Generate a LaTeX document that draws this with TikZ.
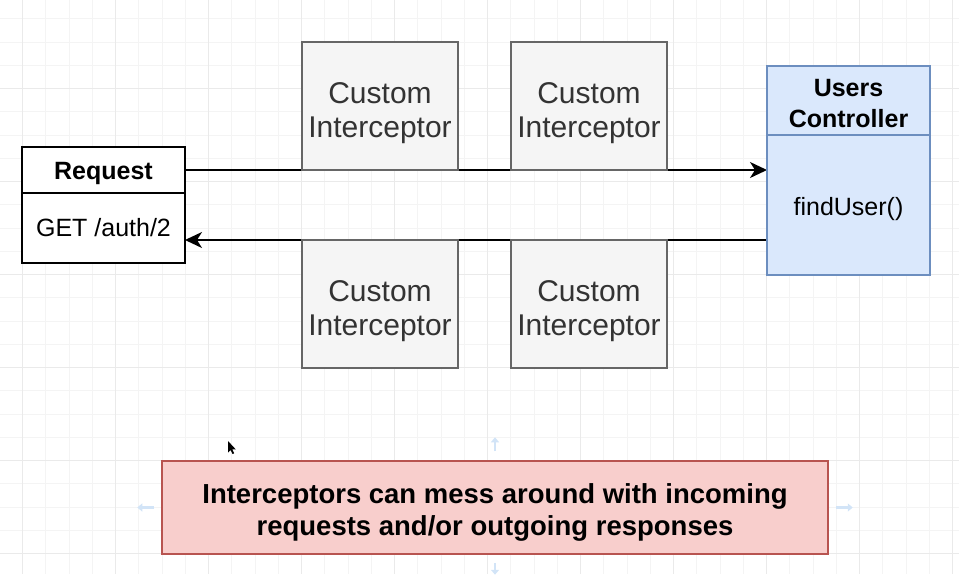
\documentclass[tikz,border=0pt]{standalone}
\usepackage{fontspec}
\setmainfont{Liberation Sans}
\usepackage{tikz}
\usetikzlibrary{arrows.meta,positioning}
\definecolor{gridminor}{HTML}{F4F4F4}
\definecolor{gridmajor}{HTML}{EAEAEA}
\definecolor{icptfill}{HTML}{F5F5F5}
\definecolor{icptline}{HTML}{666666}
\definecolor{icpttext}{HTML}{333333}
\definecolor{ctrlfill}{HTML}{DAE8FC}
\definecolor{ctrlline}{HTML}{6C8EBF}
\definecolor{notefill}{HTML}{F8CECC}
\definecolor{noteline}{HTML}{B85450}
\definecolor{hintblue}{HTML}{D2E4F7}
\pgfdeclarelayer{grid}
\pgfdeclarelayer{back}
\pgfsetlayers{grid,back,main}
\tikzset{grid minor/.style={draw=gridminor, line width=1pt},
  grid major/.style={draw=gridmajor, line width=1pt},
  sink/.style={execute at begin node={\rule{0pt}{#1}}},
  interceptor/.style={draw=icptline, fill=icptfill, line width=1.5pt,
    text=icpttext, minimum width=156pt, minimum height=128pt,
    inner sep=0pt, outer sep=0pt, align=center, sink=69pt,
    font=\fontsize{30}{34}\selectfont
  },
  class part/.style={draw, line width=1.5pt, minimum width=163pt,
    minimum height=#1, inner sep=0pt, outer sep=0pt, align=center,
    font=\fontsize{25}{31}\selectfont
  },
  class part/.default=46pt,
  controller part/.style={class part=#1, draw=ctrlline, fill=ctrlfill},
  note box/.style={draw=noteline, fill=notefill, line width=1.5pt,
    minimum width=666pt, minimum height=93pt, inner sep=0pt, align=center,
    sink=62pt, font=\bfseries\fontsize{27.5}{32}\selectfont
  },
  flow/.style={line width=1.6pt, -{Stealth[length=17pt,width=16pt,inset=5pt]}},
  hint/.style={draw=hintblue, line width=2.5pt, -{Triangle[length=5pt,width=8pt]}}
}

\begin{document}
\begin{tikzpicture}[x=1pt,y=-1pt]
    \useasboundingbox (0,0) rectangle (959,574);
    % grid
    \begin{pgfonlayer}{grid}
    \foreach \k in {0,...,41}
        \draw[grid minor] ({-0.55+23.25*\k},0) -- ++(0,574);
    \foreach \k in {0,...,25}
        \draw[grid minor] (0,{-4.4+23.25*\k}) -- ++(959,0);
    \foreach \k in {0,...,10}
        \draw[grid major] ({22.3+93*\k},0) -- ++(0,574);
    \foreach \k in {0,...,6}
        \draw[grid major] (0,{-4.7+93*\k}) -- ++(959,0);
    \end{pgfonlayer}

    % request
    \node[class part, sink=24pt, fill=white, anchor=north west] (reqhead) at (22,147) {\bfseries Request};
    \node[class part=70pt, fill=white, below=0pt of reqhead] (reqbody) {GET /auth/2};

    % users controller
    \node[controller part=69pt, sink=55pt, anchor=north west] (ctrlhead) at (767,66) {\bfseries Users\\\bfseries Controller};
    \node[controller part=140pt, sink=26pt, below=0pt of ctrlhead] (ctrlbody) {findUser()};

    % interceptors
    \node[interceptor, anchor=north west] (icptA) at (302,42) {Custom\\Interceptor};
    \node[interceptor, right=53pt of icptA] (icptB) {Custom\\Interceptor};
    \node[interceptor, below=70pt of icptA] (icptC) {Custom\\Interceptor};
    \node[interceptor, below=70pt of icptB] (icptD) {Custom\\Interceptor};

    \begin{pgfonlayer}{back}
    \draw[flow] (reqhead.east) -- (reqhead.east -| ctrlbody.west);
    \draw[flow] (icptC.north -| ctrlbody.west) -- (icptC.north -| reqbody.east);
    \end{pgfonlayer}

    % note
    \node[note box] (note) at (495,507.5) {Interceptors can mess around with incoming\\requests and/or outgoing responses};
    \draw[hint] ([yshift=9pt]note.north) -- ([yshift=23pt]note.north);
    \draw[hint] ([yshift=-8pt]note.south) -- ([yshift=-20pt]note.south);
    \draw[hint] ([xshift=-7pt]note.west) -- ([xshift=-24pt]note.west);
    \draw[hint] ([xshift=7pt]note.east) -- ([xshift=24pt]note.east);

    % cursor
    \fill (228,441) -- (228,452.5) -- (230.6,450) -- (232.6,454) -- (234.2,453.3) -- (232.3,449.4) -- (235.8,449.4) -- cycle;
\end{tikzpicture}
\end{document}
